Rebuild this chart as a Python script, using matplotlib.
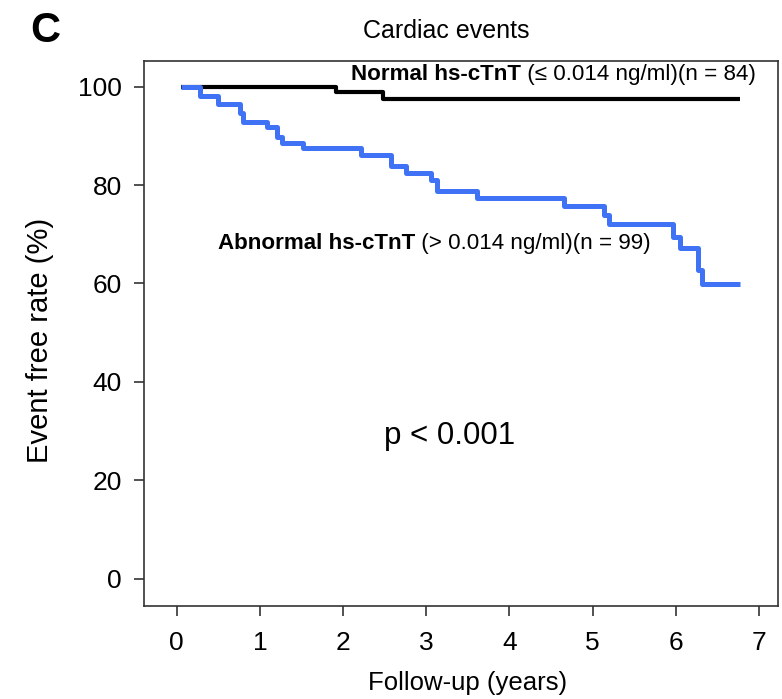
import matplotlib
matplotlib.use('Agg')
import matplotlib.pyplot as plt

plt.rcParams['font.family'] = ['Liberation Sans', 'DejaVu Sans']

# ---- data ----
normal_time = [0.05, 1.92, 2.48, 6.77]
normal_surv = [100.0, 98.8, 97.5, 97.5]

abnormal_time = [0.05, 0.28, 0.50, 0.76, 0.80, 1.08, 1.20, 1.26, 1.52, 2.22,
                 2.57, 2.76, 3.06, 3.13, 3.61, 4.66, 5.13, 5.20, 5.97, 6.05,
                 6.27, 6.31, 6.77]
abnormal_surv = [100.0, 98.1, 96.4, 94.6, 92.9, 91.7, 89.8, 88.6, 87.5, 86.1,
                 83.8, 82.5, 81.1, 78.7, 77.3, 75.8, 73.9, 72.0, 69.5, 67.1,
                 62.7, 59.9, 59.9]

x_ticks = [0, 1, 2, 3, 4, 5, 6, 7]
y_ticks = [0, 20, 40, 60, 80, 100]

title = 'Cardiac events'
panel = 'C'
xlabel = 'Follow-up (years)'
ylabel = 'Event free rate (%)'
p_text = 'p < 0.001'
normal_bold, normal_rest = 'Normal hs-cTnT', ' (≤ 0.014 ng/ml)(n = 84)'
abn_bold, abn_rest = 'Abnormal hs-cTnT', ' (> 0.014 ng/ml)(n = 99)'

W, H = 782, 699
fig = plt.figure(figsize=(W / 100, H / 100), dpi=100)
ax = fig.add_axes([144.3 / W, 1 - 606 / H, (778 - 144.3) / W, (606 - 61) / H])

ax.step(normal_time, normal_surv, where='post', color='black', lw=3.0,
        solid_capstyle='butt', zorder=2)
ax.step(abnormal_time, abnormal_surv, where='post', color='#3f72f5', lw=3.6,
        solid_capstyle='butt', zorder=3)

ax.set_xlim(-0.389, 7.227)
ax.set_ylim(-5.55, 105.2)
ax.set_xticks(x_ticks)
ax.set_yticks(y_ticks)
ax.tick_params(direction='out', length=7.2, width=1.2, labelsize=19,
               color='#333333')
ax.tick_params(axis='x', pad=10.5)
ax.tick_params(axis='y', pad=9)
for s in ax.spines.values():
    s.set_linewidth(1.2)
    s.set_color('#333333')

def fx(px):
    return px / W
def fy(py):
    return 1 - py / H

fig.text(fx(446), fy(31), title, ha='center', va='center', fontsize=18)
fig.text(fx(45), fy(31), panel, ha='center', va='center', fontsize=30,
         fontweight='bold')
fig.text(fx(468), fy(683), xlabel, ha='center', va='center', fontsize=18.5)
fig.text(fx(40), fy(340), ylabel, ha='center', va='center', fontsize=21,
         rotation=90)
fig.text(fx(450), fy(436), p_text, ha='center', va='center', fontsize=22.5)

fig.canvas.draw()
renderer = fig.canvas.get_renderer()

def mixed(x, y, bold, rest, size):
    t1 = fig.text(fx(x), fy(y), bold, ha='left', va='baseline',
                  fontsize=size, fontweight='bold')
    fig.canvas.draw()
    bb = t1.get_window_extent(renderer=renderer)
    fig.text(bb.x1 / W, fy(y), rest, ha='left', va='baseline', fontsize=size)

mixed(351, 80, normal_bold, normal_rest, 16.1)
mixed(218, 249, abn_bold, abn_rest, 16.1)

fig.savefig('out.png', dpi=100)
